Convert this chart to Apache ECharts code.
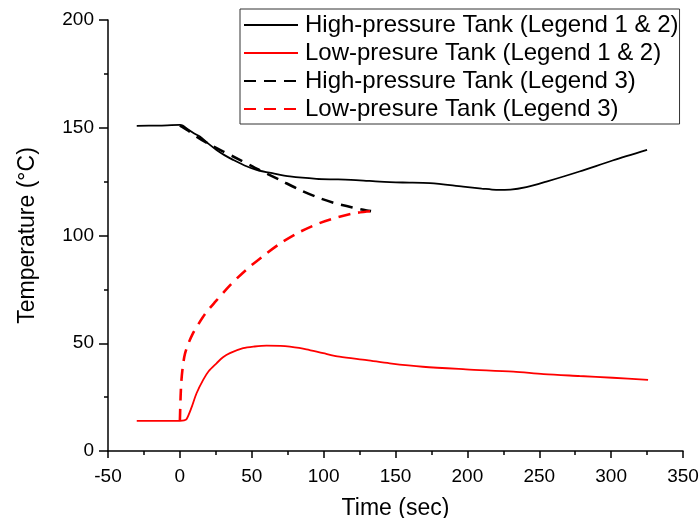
<!DOCTYPE html>
<html>
<head>
<meta charset="utf-8">
<script src="https://cdn.jsdelivr.net/npm/echarts@6/dist/echarts.min.js"></script>
<style>html,body{margin:0;padding:0;background:#fff}#c{width:700px;height:518px}</style>
</head>
<body>
<div id="c"></div>
<script>
const seriesNames = ['High-pressure Tank (Legend 1 & 2)', 'Low-presure Tank (Legend 1 & 2)', 'High-pressure Tank (Legend 3)', 'Low-presure Tank (Legend 3)'];
const xTicks = [-50, 0, 50, 100, 150, 200, 250, 300, 350];
const yTicks = [0, 50, 100, 150, 200];

const hpSolidTime = [-30, -15, 0, 2, 5, 10, 13.9, 20, 25.5, 31, 37, 45, 53.3, 65, 76.5, 95, 110, 125, 139, 155, 174, 197, 210, 220, 230, 241, 255, 278, 301, 325];
const hpSolidTemp = [150.9, 151, 151.3, 151, 149.5, 147.3, 145.9, 142.5, 139.7, 137.3, 135.1, 132.5, 130.5, 128.8, 127.4, 126.3, 126, 125.6, 125, 124.6, 124.3, 122.7, 121.8, 121.2, 121.3, 122.4, 125, 129.7, 134.8, 139.7];

const lpSolidTime = [-30, -10, 0, 3, 4.6, 8, 11.6, 16.2, 20, 25.5, 30, 34.8, 44, 52, 60.3, 70, 76.5, 88, 99.7, 111, 130, 146, 169, 199, 232, 253, 278, 301, 325.7];
const lpSolidTemp = [14, 14, 14, 14.2, 14.7, 20, 26.8, 33, 37, 40.7, 43.5, 45.4, 47.7, 48.5, 48.9, 48.8, 48.4, 47.2, 45.4, 43.8, 42.2, 40.7, 39.1, 37.9, 36.8, 35.7, 34.8, 34, 33];

const hpDashTime = [0, 5, 11.6, 20, 30, 41.7, 55, 69.5, 83, 97.4, 108, 116, 124, 130, 133];
const hpDashTemp = [151, 149, 145.9, 142.5, 139, 135.1, 130.5, 125.8, 121.3, 117.3, 115, 113.7, 112.4, 111.6, 111.3];

const lpDashTime = [0, 0.5, 1, 2, 3.5, 6, 9, 13, 18, 25, 35, 46, 58, 70, 83, 97, 110, 121, 130, 133];
const lpDashTemp = [14, 25, 32, 39, 45, 50, 54.5, 59, 64, 69.5, 77, 84, 90.5, 96.4, 101.5, 105.7, 108.5, 110.3, 111.1, 111.3];

function pairs(xs, ys) { return xs.map((x, i) => [x, ys[i]]); }

const FONT = 'Liberation Sans, Arial, sans-serif';
const chart = echarts.init(document.getElementById('c'), null, {renderer: 'canvas'});

function mkSeries(name, data, color, dashed) {
  return {
    name: name, type: 'line', data: data, showSymbol: false, symbol: 'none',
    smooth: 0.3, animation: false,
    lineStyle: {color: color, width: dashed ? 2.6 : 1.8, type: dashed ? [12, 8] : 'solid'},
    itemStyle: {color: color}
  };
}

const axisCommon = {
  type: 'value', interval: 50,
  nameLocation: 'middle',
  nameTextStyle: {fontSize: 23, color: '#000', fontFamily: FONT},
  axisLine: {show: true, onZero: false, lineStyle: {color: '#000', width: 1.5}},
  minorTick: {show: true, splitNumber: 2, length: 4, lineStyle: {color: '#000', width: 1.5}},
  splitLine: {show: false}
};

chart.setOption({
  animation: false,
  backgroundColor: '#fff',
  textStyle: {fontFamily: FONT},
  grid: {left: 108, right: 17, top: 20, bottom: 67, containLabel: false, outerBoundsMode: 'none'},
  legend: {
    orient: 'vertical', left: 240, top: 9,
    padding: [4, 1, 3, 3], itemGap: 4, itemWidth: 54, itemHeight: 14,
    borderColor: '#333', borderWidth: 1, backgroundColor: '#fff',
    itemStyle: {opacity: 0},
    textStyle: {fontSize: 24, lineHeight: 24, color: '#000', fontFamily: FONT, padding: [0, 0, 0, 2]},
    data: seriesNames.slice()
  },
  xAxis: Object.assign({}, axisCommon, {
    min: xTicks[0], max: xTicks[xTicks.length - 1],
    name: 'Time (sec)', nameGap: 46,
    axisTick: {show: true, inside: false, length: 7, lineStyle: {color: '#000', width: 1.5}},
    axisLabel: {fontSize: 19, color: '#000', margin: 16, fontFamily: FONT}
  }),
  yAxis: Object.assign({}, axisCommon, {
    min: yTicks[0], max: yTicks[yTicks.length - 1],
    name: 'Temperature (°C)', nameGap: 69,
    axisTick: {show: true, inside: false, length: 9, lineStyle: {color: '#000', width: 1.5}},
    axisLabel: {fontSize: 19, color: '#000', margin: 14, fontFamily: FONT}
  }),
  series: [
    mkSeries(seriesNames[0], pairs(hpSolidTime, hpSolidTemp), '#000000', false),
    mkSeries(seriesNames[1], pairs(lpSolidTime, lpSolidTemp), '#ff0000', false),
    mkSeries(seriesNames[2], pairs(hpDashTime, hpDashTemp), '#000000', true),
    mkSeries(seriesNames[3], pairs(lpDashTime, lpDashTemp), '#ff0000', true)
  ]
});
</script>
</body>
</html>
